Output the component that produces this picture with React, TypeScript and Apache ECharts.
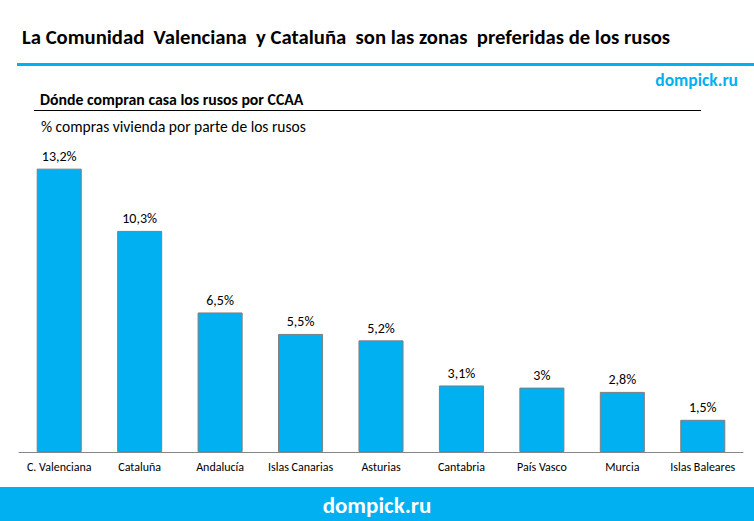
import React, { useEffect, useRef } from "react";
import * as echarts from "echarts";

const categories = [
  "C. Valenciana",
  "Cataluña",
  "Andalucía",
  "Islas Canarias",
  "Asturias",
  "Cantabria",
  "País Vasco",
  "Murcia",
  "Islas Baleares",
];
const shares = [13.2, 10.3, 6.5, 5.5, 5.2, 3.1, 3.0, 2.8, 1.5];

const FONT = "Carlito, Lato, sans-serif";
const BLUE = "#00b0f0";

function fmt(v: number): string {
  return (Number.isInteger(v) ? String(v) : v.toFixed(1).replace(".", ",")) + "%";
}

function textAt(x: number, y: number, text: string, font: string, fill: string, align = "left") {
  return {
    type: "text",
    x,
    y,
    style: { text, font, fill, align, verticalAlign: "middle" },
  };
}

export default function App() {
  const ref = useRef<HTMLDivElement>(null);
  useEffect(() => {
    if (!ref.current) return;
    const chart = echarts.init(ref.current, undefined, { renderer: "svg" });
    chart.setOption({
      animation: false,
      backgroundColor: "#ffffff",
      grid: { left: 19, right: 11, top: 130, bottom: 69 },
      xAxis: {
        type: "category",
        data: categories,
        axisLine: { lineStyle: { color: "#868686", width: 1 } },
        axisTick: { show: false },
        axisLabel: { color: "#000", fontFamily: FONT, fontSize: 12, margin: 9, interval: 0 },
      },
      yAxis: {
        type: "value",
        min: 0,
        max: 15,
        show: false,
        splitLine: { show: false },
      },
      series: [
        {
          type: "bar",
          data: shares,
          barWidth: "56%",
          itemStyle: { color: BLUE, borderColor: "#7f7f7f", borderWidth: 1 },
          label: {
            show: true,
            position: "top",
            distance: 5,
            color: "#000",
            fontFamily: FONT,
            fontSize: 14,
            formatter: (p: any) => fmt(p.value),
          },
        },
      ],
      graphic: [
        textAt(
          22,
          37,
          "La Comunidad  Valenciana  y Cataluña  son las zonas  preferidas de los rusos",
          `bold 20.7px ${FONT}`,
          "#000"
        ),
        { type: "rect", shape: { x: 17, y: 63, width: 737, height: 3 }, style: { fill: BLUE } },
        textAt(738, 80, "dompick.ru", `bold 17.5px ${FONT}`, BLUE, "right"),
        textAt(40, 99, "Dónde compran casa los rusos por CCAA", `bold 15.8px ${FONT}`, "#000"),
        { type: "rect", shape: { x: 34, y: 110, width: 667, height: 1 }, style: { fill: "#000" } },
        textAt(41, 126, "% compras vivienda por parte de los rusos", `15.5px ${FONT}`, "#000"),
        { type: "rect", shape: { x: 0, y: 487, width: 754, height: 34 }, style: { fill: BLUE } },
        textAt(377, 505, "dompick.ru", `bold 23px ${FONT}`, "#fff", "center"),
      ],
    });
    return () => chart.dispose();
  }, []);
  return (
    <div
      ref={ref}
      style={{ position: "fixed", left: 0, top: 0, width: 754, height: 521 }}
    />
  );
}
